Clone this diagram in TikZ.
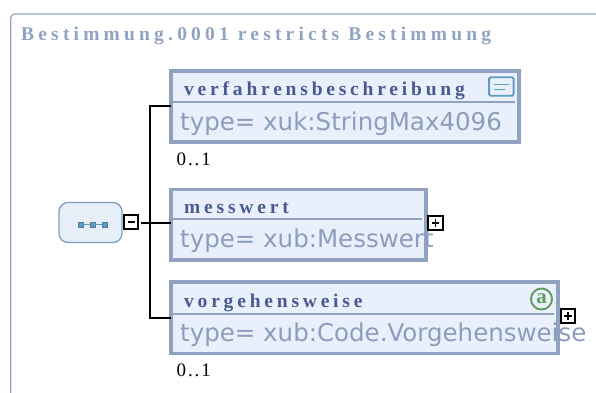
\documentclass[tikz,border=0pt]{standalone}
\usepackage{fontspec}
\setmainfont{Liberation Serif}
\newfontfamily\namefont[LetterSpace=19.5]{Liberation Serif Bold}
\newfontfamily\titlefont[LetterSpace=21.5]{Liberation Serif Bold}
\newfontfamily\occfont[LetterSpace=10]{Liberation Serif}
\newfontfamily\typefont{DejaVu Sans}
\definecolor{frameblue}{HTML}{92A3C2}
\definecolor{boxborder}{HTML}{91A1C0}
\definecolor{boxfill}{HTML}{E9F0FB}
\definecolor{nametext}{HTML}{4A5A90}
\definecolor{typetext}{HTML}{8C9DBD}
\definecolor{seqfill}{HTML}{E6EEF7}
\definecolor{seqborder}{HTML}{7F9FBF}
\definecolor{iconblue}{HTML}{5F9CC0}
\definecolor{icongreen}{HTML}{5F9A5F}
\tikzset{
  x=1pt,y=-1pt,
  elementbox/.style={draw=boxborder,fill=boxfill,line width=3.6pt,inner sep=0pt,outer sep=0pt,anchor=north west},
  divider/.style={draw=boxborder,line width=1.3pt},
  nametxt/.style={anchor=base west,inner sep=0pt,text=nametext,font=\namefont\fontsize{19.5}{22}\selectfont},
  typetxt/.style={anchor=base west,inner sep=0pt,text=typetext,font=\typefont\fontsize{24.5}{28}\selectfont},
  occurs/.style={anchor=base west,inner sep=0pt,text=black,font=\occfont\fontsize{19}{22}\selectfont},
  toggle/.style={draw=black,fill=white,line width=2pt,minimum width=14.2pt,minimum height=14.2pt,inner sep=0pt,outer sep=0pt},
  wire/.style={draw=black,line width=1.6pt},
}
\begin{document}
\begin{tikzpicture}
\useasboundingbox (0,0) rectangle (596,392);
\begin{scope}
\clip (0,0) rectangle (596,392);
\draw[frameblue,line width=1.2pt,rounded corners=4pt] (10.7,400) -- (10.7,14) -- (610,14);
\end{scope}
\node[anchor=base west,inner sep=0pt,text=frameblue,font=\titlefont\fontsize{19.5}{22}\selectfont] (title) at (21,40) {Bestimmung.0001 restricts Bestimmung};

% sequence node
\node[draw=seqborder,fill=seqfill,line width=1.3pt,rounded corners=9pt,minimum width=63pt,minimum height=40pt,inner sep=0pt] (seq) at (90.5,222.5) {};
\foreach \i/\xx in {a/80.5,b/92.5,c/104.5}{
  \node[draw=iconblue!80!black,fill=iconblue,line width=.6pt,minimum size=4.6pt,inner sep=0pt] (sq\i) at (\xx,224.5) {};
}
\draw[iconblue,line width=.7pt] (sqa) -- (sqb) (sqb) -- (sqc);

% element boxes
\node[elementbox,minimum width=348.4pt,minimum height=71.4pt] (e1) at (170.8,70.8) {};
\node[elementbox,minimum width=255.4pt,minimum height=70.4pt] (e2) at (170.8,189.3) {};
\node[elementbox,minimum width=387.4pt,minimum height=71.4pt] (e3) at (170.8,282) {};

\coordinate (e1j) at (e1.west |- 0,106);
\coordinate (e3j) at (e3.west |- 0,318);
\coordinate (trunk1) at (150,106);
\coordinate (trunk2) at (150,318);
\coordinate (e2j) at (e2.west |- 0,223);
\coordinate (stub) at (141,223);

\draw[wire] (e1j) -- (trunk1) -- (trunk2) -- (e3j);
\draw[wire] (stub) -- (e2j);

\coordinate (d1a) at (171,102); \coordinate (d1b) at (515,102);
\coordinate (d2a) at (171,219); \coordinate (d2b) at (422,219);
\coordinate (d3a) at (171,314); \coordinate (d3b) at (554,314);
\draw[divider] (d1a) -- (d1b);
\draw[divider] (d2a) -- (d2b);
\draw[divider] (d3a) -- (d3b);

\node[nametxt] (n1) at (184,95) {verfahrensbeschreibung};
\node[nametxt] (n2) at (184,213) {messwert};
\node[nametxt] (n3) at (184,307) {vorgehensweise};

\node[typetxt] (t1) at (180,130) {type= xuk:StringMax4096};
\node[typetxt] (t2) at (180,247.5) {type= xub:Messwert};
\node[typetxt] (t3) at (180,341) {type= xub:Code.Vorgehensweise};

\node[occurs] (o1) at (176.5,165.5) {0..1};
\node[occurs] (o3) at (176.5,376) {0..1};

% documentation icon
\node[draw=iconblue,fill=boxfill,line width=1.9pt,rounded corners=1.5pt,minimum width=24.5pt,minimum height=18.5pt,inner sep=0pt] (doc) at (501.3,86.5) {};
\draw[iconblue,line width=.7pt] ([xshift=-7.5pt,yshift=2.5pt]doc.center) -- ([xshift=7.5pt,yshift=2.5pt]doc.center);
\draw[iconblue,line width=.7pt] ([xshift=-7.5pt,yshift=-2.5pt]doc.center) -- ([xshift=4pt,yshift=-2.5pt]doc.center);

% attribute icon
\node[circle,draw=icongreen,fill=boxfill,line width=1.9pt,minimum size=21pt,inner sep=0pt,text=icongreen,font=\bfseries\fontsize{21}{22}\selectfont] (attr) at (541.5,299) {a};

% toggles
\node[toggle] (tm) at (131,222) {};
\draw[black,line width=1.6pt] ([xshift=-3.5pt]tm.center) -- ([xshift=3.5pt]tm.center);
\node[toggle] (tp1) at (435.5,223) {};
\draw[black,line width=1.6pt] ([xshift=-3.8pt]tp1.center) -- ([xshift=3.8pt]tp1.center) ([yshift=-3.8pt]tp1.center) -- ([yshift=3.8pt]tp1.center);
\node[toggle] (tp2) at (568,316) {};
\draw[black,line width=1.6pt] ([xshift=-3.8pt]tp2.center) -- ([xshift=3.8pt]tp2.center) ([yshift=-3.8pt]tp2.center) -- ([yshift=3.8pt]tp2.center);
\end{tikzpicture}
\end{document}
